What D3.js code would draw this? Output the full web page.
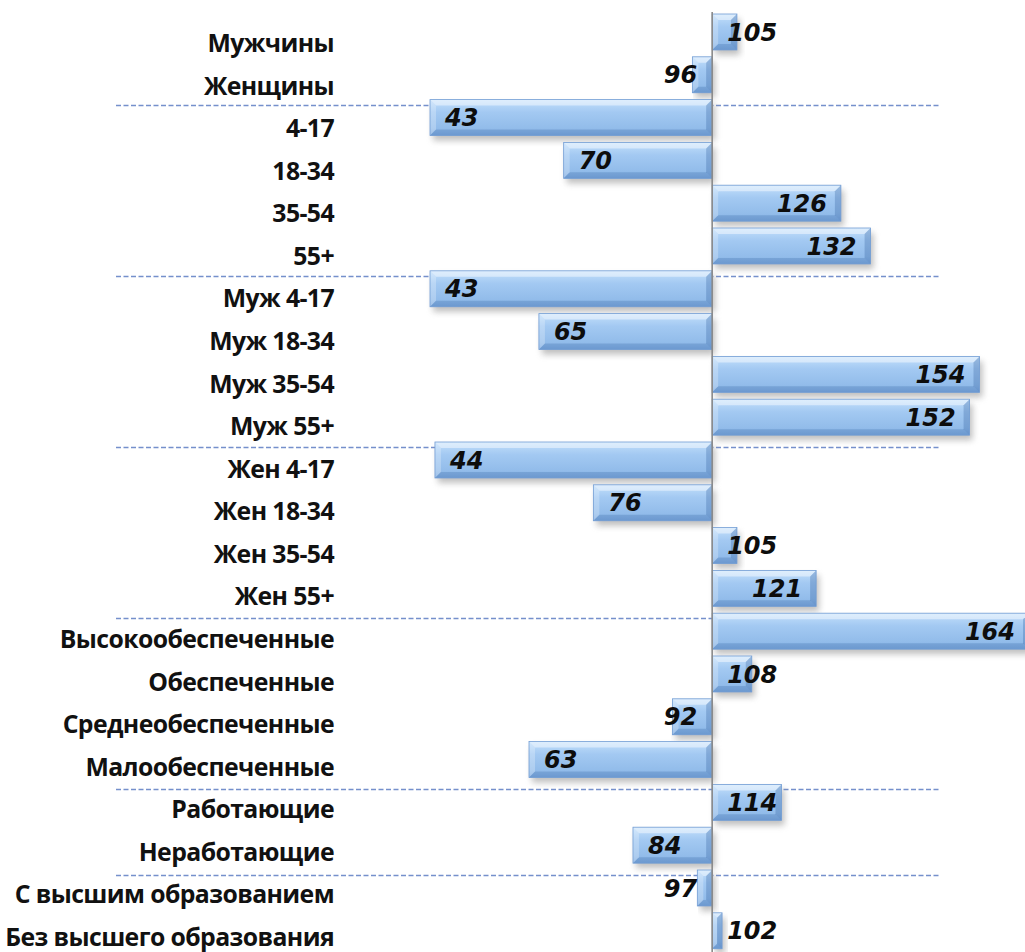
<!DOCTYPE html>
<html>
<head>
<meta charset="utf-8">
<script src="https://cdn.jsdelivr.net/npm/d3@7"></script>
<style>
  html, body { margin: 0; padding: 0; background: #ffffff; }
  svg { display: block; }
</style>
</head>
<body>
<svg id="chart" width="1025" height="952"></svg>
<script>
// Affinity index by audience group (100 = average)
const categories = [
  "Мужчины", "Женщины",
  "4-17", "18-34", "35-54", "55+",
  "Муж 4-17", "Муж 18-34", "Муж 35-54", "Муж 55+",
  "Жен 4-17", "Жен 18-34", "Жен 35-54", "Жен 55+",
  "Высокообеспеченные", "Обеспеченные", "Среднеобеспеченные", "Малообеспеченные",
  "Работающие", "Неработающие",
  "С высшим образованием", "Без высшего образования"
];
const values = [
  105, 96,
  43, 70, 126, 132,
  43, 65, 154, 152,
  44, 76, 105, 121,
  164, 108, 92, 63,
  114, 84,
  97, 102
];
// last category of each group; a dashed separator follows it
const groupEnds = ["Женщины", "55+", "Муж 55+", "Жен 55+", "Малообеспеченные", "Неработающие"];
const baseValue = 100;

const data = categories.map((c, i) => ({ cat: c, val: values[i] }));

const svg = d3.select("#chart");
const defs = svg.append("defs");

// bar body gradient
const grad = defs.append("linearGradient")
  .attr("id", "barFill").attr("x1", 0).attr("y1", 0).attr("x2", 0).attr("y2", 1);
grad.append("stop").attr("offset", "0%").attr("stop-color", "#c4e0fb");
grad.append("stop").attr("offset", "35%").attr("stop-color", "#a3c9f2");
grad.append("stop").attr("offset", "80%").attr("stop-color", "#92bcea");
grad.append("stop").attr("offset", "100%").attr("stop-color", "#80abe0");

// soft shadow under bars
const shadow = defs.append("filter").attr("id", "barShadow")
  .attr("x", "-10%").attr("y", "-40%").attr("width", "130%").attr("height", "200%");
shadow.append("feGaussianBlur").attr("stdDeviation", 3.2);

const lineBlur = defs.append("filter").attr("id", "lineBlur")
  .attr("x", "-5%").attr("y", "-300%").attr("width", "110%").attr("height", "700%");
lineBlur.append("feGaussianBlur").attr("stdDeviation", 1.2);

// scales
const x = d3.scaleLinear().domain([43, 164]).range([430, 1029]);
const step = 42.8, pIn = 0.16, pOut = 0.08;
const r0 = 14 - step * pOut;
const y = d3.scaleBand()
  .domain(categories)
  .range([r0, r0 + step * (categories.length - pIn + 2 * pOut)])
  .paddingInner(pIn).paddingOuter(pOut);
const yLabel = d3.scalePoint().domain(categories).range([52, 946]);

const x0 = x(baseValue);

// group separators
const sepG = svg.append("g");
groupEnds.forEach(c => {
  const idx = categories.indexOf(c);
  const next = categories[idx + 1];
  const sy = Math.round(y(next) + 5) + 0.5;
  sepG.append("line")
    .attr("x1", 116).attr("x2", 941).attr("y1", sy + 3).attr("y2", sy + 3)
    .attr("stroke", "#e1e5ea").attr("stroke-width", 3)
    .attr("filter", "url(#lineBlur)");
  sepG.append("line")
    .attr("x1", 116).attr("x2", 941).attr("y1", sy).attr("y2", sy)
    .attr("stroke", "#7590cc").attr("stroke-width", 1.6)
    .attr("stroke-dasharray", "5,2.5");
});

// bars
const barsG = svg.append("g");
const bh = y.bandwidth();

data.forEach(d => {
  const xa = Math.min(x(d.val), x0);
  const xb = Math.max(x(d.val), x0);
  const ya = y(d.cat), yb = ya + bh;
  const g = barsG.append("g");

  g.append("rect")
    .attr("x", xa + 3).attr("y", ya + 5)
    .attr("width", xb - xa).attr("height", bh)
    .attr("fill", "#8c8c8c").attr("opacity", 0.55)
    .attr("filter", "url(#barShadow)");

  g.append("rect")
    .attr("x", xa).attr("y", ya).attr("width", xb - xa).attr("height", bh)
    .attr("fill", "url(#barFill)");

  const b = Math.min(6, (xb - xa) / 2, bh / 2);
  const poly = (pts, fill, op) => g.append("polygon")
    .attr("points", pts.map(p => p.join(",")).join(" "))
    .attr("fill", fill).attr("opacity", op);
  poly([[xa, ya], [xb, ya], [xb - b, ya + b], [xa + b, ya + b]], "#ffffff", 0.45);
  poly([[xa, ya], [xa + b, ya + b], [xa + b, yb - b], [xa, yb]], "#ffffff", 0.25);
  poly([[xa, yb], [xb, yb], [xb - b, yb - b], [xa + b, yb - b]], "#1d4f8f", 0.2);
  poly([[xb, ya], [xb - b, ya + b], [xb - b, yb - b], [xb, yb]], "#1d4f8f", 0.26);

  g.append("rect")
    .attr("x", xa).attr("y", ya).attr("width", xb - xa).attr("height", bh)
    .attr("fill", "none").attr("stroke", "#729dd4").attr("stroke-width", 0.8);
});

// baseline axis at 100
svg.append("line")
  .attr("x1", x0).attr("x2", x0)
  .attr("y1", 12).attr("y2", 952)
  .attr("stroke", "#8a8a8a").attr("stroke-width", 1.6);

// value labels
const valG = svg.append("g")
  .style("font-family", "'DejaVu Sans', sans-serif")
  .style("font-weight", "bold").style("font-style", "italic")
  .style("font-size", "24px").attr("fill", "#0d0d0d");

data.forEach(d => {
  const t = valG.append("text").text(d.val)
    .attr("y", y(d.cat) + bh / 2).attr("dy", "0.36em");
  const w = t.node().getComputedTextLength();
  const xv = x(d.val);
  if (d.val >= baseValue) {
    let end = xv - 14;
    if (end - w < x0 + 15) end = x0 + 15 + w;
    t.attr("x", end).attr("text-anchor", "end");
  } else {
    let start = xv + 15;
    if (start + w > x0 - 15) start = x0 - 15 - w;
    t.attr("x", start).attr("text-anchor", "start");
  }
});

// category labels
const catG = svg.append("g")
  .style("font-family", "'Open Sans', 'Noto Sans', sans-serif")
  .style("font-weight", "bold").attr("fill", "#111111");
catG.selectAll("text").data(categories).join("text")
  .attr("x", 334).attr("y", c => yLabel(c))
  .attr("text-anchor", "end")
  .style("font-size", "24.8px")
  .style("letter-spacing", "-0.6px")
  .text(c => c);
</script>
</body>
</html>
